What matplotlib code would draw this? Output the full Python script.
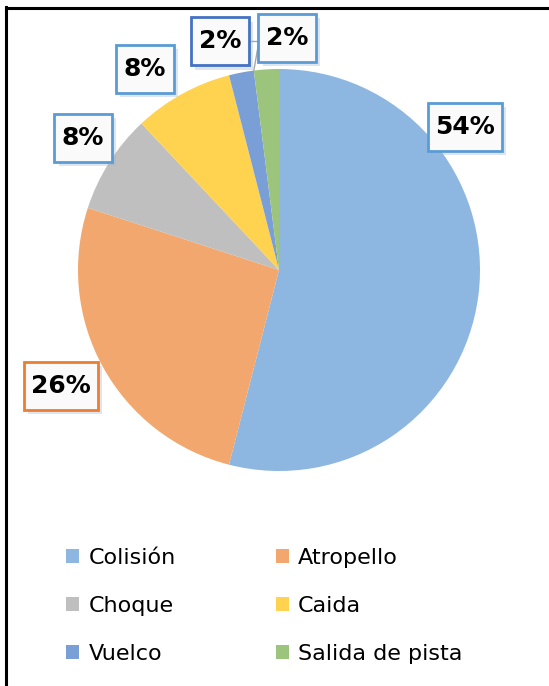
import numpy as np
import matplotlib
matplotlib.use("Agg")
import matplotlib.pyplot as plt
from matplotlib.patches import Patch
from matplotlib.lines import Line2D
from matplotlib.path import Path
import matplotlib.patheffects as pe

categories = ["Colisión", "Atropello", "Choque", "Caida", "Vuelco", "Salida de pista"]
values = [54, 26, 8, 8, 2, 2]
labels = ["54%", "26%", "8%", "8%", "2%", "2%"]
colors = ["#8DB7E1", "#F1A76E", "#BFBFBF", "#FFD250", "#7A9ED6", "#9CC47C"]
box_edges = ["#5B9BD5", "#ED7D31", "#5B9BD5", "#5B9BD5", "#4472C4", "#5B9BD5"]
# label centres, in pie data units
label_pos = [(0.925, 0.711), (-1.085, -0.577), (-0.975, 0.657), (-0.667, 1.0),
             (-0.294, 1.137), (0.04, 1.154)]

W, H = 549, 686
fig = plt.figure(figsize=(W / 100, H / 100), dpi=100)
fig.patch.set_facecolor("white")

# frame lines (top and left only visible)
fig.add_artist(Line2D([5.5 / W, 5.5 / W], [0, 1 - 7 / H], color="black", lw=2.2))
fig.add_artist(Line2D([5.5 / W, 1], [1 - 7.5 / H, 1 - 7.5 / H], color="black", lw=2.2))


def label_box(x0, y0, width, height, mutation_size):
    # rectangle with separate horizontal / vertical padding
    px = 0.3 * mutation_size
    py = 0.48 * mutation_size
    x1, y1 = x0 + width + px, y0 + height + py
    x0, y0 = x0 - px, y0 - py
    return Path([(x0, y0), (x1, y0), (x1, y1), (x0, y1), (x0, y0)],
                [Path.MOVETO, Path.LINETO, Path.LINETO, Path.LINETO, Path.CLOSEPOLY])


cx, cy, r = 279, 270, 201
ax = fig.add_axes([(cx - r) / W, (H - cy - r) / H, 2 * r / W, 2 * r / H])
wedges, _ = ax.pie(values, colors=colors, startangle=90, counterclock=False,
                   radius=1, wedgeprops=dict(linewidth=0))
ax.set_xlim(-1, 1)
ax.set_ylim(-1, 1)
ax.set_aspect("equal")
ax.axis("off")

cum = np.cumsum([0] + values[:-1])
for i, (lab, pos) in enumerate(zip(labels, label_pos)):
    if i == 4:
        ang = np.deg2rad(90 - 360 * (cum[i] + values[i]) / 100)
        kw = dict(xy=(np.cos(ang), np.sin(ang)), xycoords="data",
                  arrowprops=dict(arrowstyle="-", color="#A6A6A6", lw=1,
                                  connectionstyle="angle,angleA=0,angleB=80,rad=0",
                                  shrinkA=0, shrinkB=0))
    else:
        kw = dict(xy=pos)
    t = ax.annotate(lab, xytext=pos, textcoords="data", ha="center", va="center",
                    fontsize=18, fontweight="bold", color="black",
                    family="DejaVu Sans", annotation_clip=False,
                    bbox=dict(boxstyle=label_box, fc="#FAFAFA",
                              ec=box_edges[i], lw=2), **kw)
    t.get_bbox_patch().set_path_effects([
        pe.SimplePatchShadow(offset=(3, -3), shadow_rgbFace="#9FB8D0", alpha=0.35),
        pe.Normal()])

# legend is filled column by column, so order entries to read row-wise
order = [0, 2, 4, 1, 3, 5]
handles = [Patch(facecolor=colors[k], edgecolor="none") for k in order]
fig.legend(handles, [categories[k] for k in order], ncol=2, loc="upper left",
           bbox_to_anchor=(55 / W, 1 - 537 / H), frameon=False,
           prop=dict(family="DejaVu Sans", size=16),
           handlelength=0.6, handleheight=0.6, handletextpad=0.4,
           labelspacing=1.25, columnspacing=4.5, borderpad=0)

fig.savefig("out.png", dpi=100, facecolor="white")
